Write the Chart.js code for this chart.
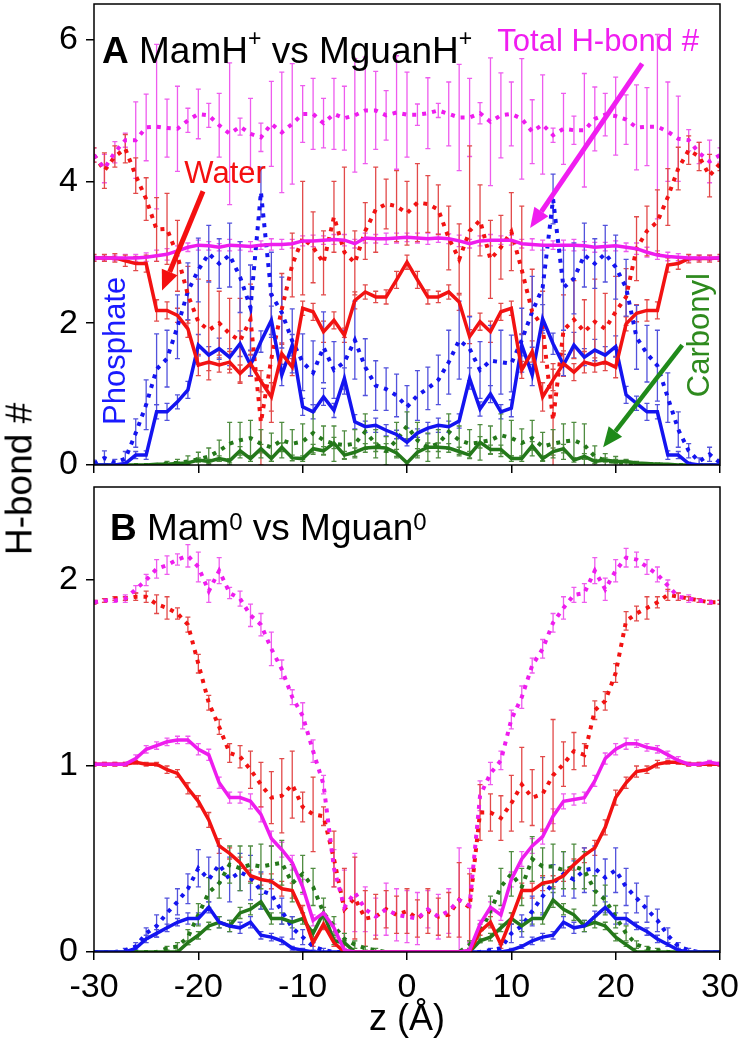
<!DOCTYPE html>
<html>
<head>
<meta charset="utf-8">
<script src="https://cdn.jsdelivr.net/npm/chart.js@4.4.1/dist/chart.umd.min.js"></script>
<style>
  body { margin: 0; background: #fff; width: 745px; height: 1050px; position: relative; overflow: hidden; }
  #chartA { position: absolute; left: 0; top: 0; }
  #chartB { position: absolute; left: 0; top: 480px; }
  #ylab { position: absolute; left: 18.5px; top: 479px; transform: translate(-50%, -50%) rotate(-90deg);
          font: 37px 'Liberation Sans', Arial, sans-serif; line-height: 1; white-space: nowrap; color: #000; }
</style>
</head>
<body>
<canvas id="chartA" width="745" height="480"></canvas>
<canvas id="chartB" width="745" height="570"></canvas>
<div id="ylab">H-bond #</div>
<script>
// z positions (Å)
const zPos = [-30,-29,-28,-27,-26,-25,-24,-23,-22,-21,
              -20,-19,-18,-17,-16,-15,-14,-13,-12,-11,
              -10,-9,-8,-7,-6,-5,-4,-3,-2,-1,
              0,1,2,3,4,5,6,7,8,9,
              10,11,12,13,14,15,16,17,18,19,
              20,21,22,23,24,25,26,27,28,29,
              30];
const xTicks = [-30, -20, -10, 0, 10, 20, 30];
const yTicksA = [0, 2, 4, 6];
const yTicksB = [0, 1, 2];

// ---- panel A: MamH+ (solid) ----
const totMamA = [2.92,2.92,2.92,2.92,2.92,2.93,2.95,2.97,3.02,3.07,
                 3.10,3.09,3.07,3.10,3.09,3.08,3.10,3.11,3.11,3.12,
                 3.16,3.16,3.17,3.18,3.17,3.12,3.20,3.19,3.19,3.20,
                 3.21,3.20,3.19,3.20,3.19,3.16,3.12,3.16,3.17,3.17,
                 3.17,3.12,3.11,3.10,3.10,3.10,3.10,3.09,3.07,3.08,
                 3.09,3.07,3.05,3.00,2.96,2.94,2.93,2.92,2.92,2.92,
                 2.92];
const watMamA = [2.92,2.92,2.92,2.88,2.84,2.84,2.18,2.18,2.11,1.92,
                 1.41,1.45,1.41,1.45,1.29,1.43,1.18,0.96,1.57,1.38,
                 2.21,2.16,1.88,2.04,1.83,2.32,2.44,2.37,2.37,2.61,
                 2.86,2.61,2.37,2.37,2.44,2.30,1.81,2.02,1.88,2.16,
                 2.21,1.34,1.60,0.96,1.20,1.43,1.31,1.45,1.41,1.45,
                 1.38,1.99,2.14,2.18,2.18,2.82,2.84,2.91,2.91,2.91,
                 2.92];
const phoMamA = [0,0,0,0.02,0.14,0.14,0.75,0.75,0.89,1.06,
                 1.69,1.55,1.64,1.52,1.71,1.41,1.74,2.04,1.27,1.69,
                 0.82,0.75,0.96,0.77,1.22,0.61,0.54,0.56,0.49,0.43,
                 0.32,0.45,0.52,0.56,0.54,0.62,1.22,0.79,1.00,0.75,
                 0.80,1.69,1.27,2.06,1.71,1.41,1.69,1.52,1.62,1.55,
                 1.67,0.99,0.87,0.75,0.75,0.14,0.14,0.02,0,0,
                 0];
const carMamA = [0,0,0,0,0,0,0.01,0.01,0.02,0.03,
                 0.07,0.05,0.09,0.06,0.20,0.09,0.23,0.09,0.25,0.10,
                 0.09,0.23,0.20,0.31,0.14,0.18,0.24,0.25,0.24,0.17,
                 0.03,0.18,0.25,0.25,0.24,0.19,0.14,0.32,0.22,0.22,
                 0.09,0.09,0.27,0.09,0.19,0.23,0.07,0.12,0.05,0.07,
                 0.05,0.05,0.03,0.02,0.01,0.01,0,0,0,0,
                 0];
const totMamAErr = [0.04,0.04,0.04,0.05,0.05,0.06,0.08,0.08,0.07,0.06,
                    0.07,0.06,0.05,0.08,0.06,0.07,0.06,0.08,0.07,0.06,
                    0.07,0.08,0.06,0.07,0.08,0.06,0.07,0.06,0.08,0.07,
                    0.06,0.07,0.08,0.06,0.07,0.08,0.06,0.07,0.08,0.06,
                    0.07,0.06,0.08,0.07,0.06,0.07,0.08,0.06,0.07,0.06,
                    0.07,0.06,0.08,0.07,0.06,0.06,0.05,0.04,0.04,0.04,
                    0.04];
const watMamAErr = [0.05,0.05,0.06,0.08,0.10,0.12,0.15,0.12,0.10,0.12,
                    0.15,0.12,0.10,0.15,0.12,0.18,0.15,0.20,0.15,0.12,
                    0.10,0.12,0.15,0.12,0.10,0.12,0.10,0.08,0.10,0.12,
                    0.10,0.12,0.10,0.08,0.10,0.12,0.10,0.12,0.15,0.12,
                    0.10,0.12,0.15,0.20,0.15,0.18,0.12,0.15,0.10,0.12,
                    0.15,0.10,0.12,0.15,0.12,0.10,0.08,0.06,0.05,0.05,
                    0.05];
const phoMamAErr = [0,0,0,0.02,0.05,0.06,0.10,0.12,0.10,0.12,
                    0.15,0.12,0.15,0.12,0.18,0.15,0.15,0.20,0.15,0.15,
                    0.12,0.10,0.12,0.10,0.15,0.10,0.08,0.10,0.08,0.06,
                    0.05,0.06,0.08,0.10,0.08,0.10,0.15,0.10,0.12,0.10,
                    0.12,0.15,0.15,0.20,0.15,0.15,0.18,0.12,0.15,0.12,
                    0.15,0.12,0.10,0.12,0.10,0.06,0.05,0.02,0,0,
                    0];
const carMamAErr = [0,0,0,0,0,0,0.01,0.01,0.02,0.02,
                    0.03,0.03,0.04,0.03,0.06,0.04,0.06,0.04,0.06,0.04,
                    0.04,0.06,0.06,0.08,0.05,0.06,0.06,0.06,0.06,0.05,
                    0.02,0.05,0.06,0.06,0.06,0.06,0.05,0.08,0.06,0.06,
                    0.04,0.04,0.06,0.04,0.05,0.06,0.03,0.04,0.03,0.03,
                    0.03,0.02,0.02,0.01,0.01,0.01,0,0,0,0,
                    0];

// ---- panel A: MguanH+ (dotted) ----
const totGuaA = [4.37,4.18,4.41,4.58,4.58,4.76,4.77,4.75,4.74,4.86,
                 4.95,4.93,4.79,4.67,4.77,4.67,4.62,4.81,4.69,4.81,
                 4.95,4.95,4.82,4.95,4.89,4.93,5.00,5.00,4.93,4.97,
                 4.94,4.94,4.96,5.00,4.95,4.90,4.90,4.96,4.84,4.93,
                 4.95,4.88,4.70,4.80,4.65,4.74,4.72,4.72,4.88,4.94,
                 4.92,4.87,4.76,4.77,4.77,4.70,4.60,4.58,4.40,4.28,
                 4.37];
const watGuaA = [4.37,4.15,4.35,4.46,4.08,3.75,3.32,3.33,2.95,2.40,
                 2.02,1.90,2.00,1.85,1.75,2.05,0.60,1.50,2.20,2.82,
                 3.20,3.07,2.85,3.50,3.00,2.85,3.30,3.60,3.68,3.65,
                 3.55,3.70,3.68,3.60,3.20,2.90,3.30,3.45,2.90,3.07,
                 3.29,2.75,2.16,1.95,0.63,1.90,2.05,1.88,2.02,1.92,
                 2.16,2.37,3.05,3.30,3.43,3.78,4.18,4.44,4.35,4.08,
                 4.25];
const phoGuaA = [0.02,0.10,0.03,0.09,0.45,0.85,1.35,1.50,1.95,2.45,
                 2.75,2.98,2.84,2.96,2.65,2.22,3.85,2.40,2.15,1.75,
                 1.45,1.30,1.66,1.34,1.45,1.76,1.38,1.12,1.07,0.98,
                 0.82,0.98,1.08,1.20,1.45,1.76,1.64,1.34,1.47,1.45,
                 1.43,1.76,2.16,2.50,3.75,2.50,2.63,2.96,2.84,2.98,
                 2.79,2.50,1.80,1.57,1.40,0.95,0.50,0.20,0.05,0.15,
                 0.03];
const carGuaA = [0,0,0,0,0,0,0,0.02,0.03,0.05,
                 0.08,0.12,0.20,0.30,0.35,0.38,0.30,0.25,0.35,0.30,
                 0.33,0.45,0.35,0.30,0.28,0.30,0.47,0.30,0.20,0.35,
                 0.55,0.35,0.25,0.30,0.47,0.35,0.30,0.32,0.35,0.42,
                 0.38,0.31,0.38,0.26,0.30,0.33,0.35,0.28,0.12,0.06,
                 0.04,0.03,0.01,0.01,0.01,0,0,0,0,0,
                 0];
const totGuaAErr = [0.10,0.20,0.15,0.10,0.54,0.47,1.16,0.41,0.60,0.17,
                    0.35,0.17,0.45,1.00,0.12,0.50,0.20,0.60,0.85,0.85,
                    0.40,0.50,0.35,0.50,0.45,0.80,0.75,0.55,0.35,0.80,
                    0.60,0.15,0.50,0.10,0.45,0.75,0.55,0.15,0.90,0.60,
                    0.45,0.85,0.45,0.70,0.10,0.50,0.20,0.80,0.45,0.30,
                    0.55,0.35,0.60,0.55,1.30,0.70,0.60,0.15,0.15,0.30,
                    0.10];
const watGuaAErr = [0.10,0.25,0.15,0.20,0.25,0.30,0.45,0.50,0.50,0.40,
                    0.60,0.70,0.45,0.50,0.60,0.50,0.60,0.90,0.50,0.45,
                    0.80,0.50,0.45,0.50,1.20,0.45,0.40,0.60,0.35,0.50,
                    0.45,0.55,0.40,0.35,0.45,0.50,1.20,0.50,0.55,0.45,
                    0.55,0.90,0.60,0.50,0.80,0.50,0.55,0.45,0.60,0.50,
                    0.50,0.40,0.45,0.35,0.45,0.40,0.30,0.20,0.20,0.30,
                    0.10];
const phoGuaAErr = [0.05,0.10,0.05,0.10,0.20,0.35,0.50,0.40,0.45,0.40,
                    0.45,0.40,0.35,0.45,0.50,0.60,0.35,0.60,0.50,0.45,
                    0.40,0.45,0.50,0.40,0.45,0.55,0.40,0.35,0.30,0.30,
                    0.30,0.35,0.30,0.35,0.45,0.55,0.45,0.40,0.50,0.45,
                    0.40,0.45,0.50,0.60,0.35,0.60,0.50,0.45,0.35,0.40,
                    0.45,0.40,0.45,0.40,0.50,0.35,0.25,0.10,0.05,0.10,
                    0.05];
const carGuaAErr = [0,0,0,0,0,0,0,0.03,0.05,0.08,
                    0.10,0.12,0.15,0.30,0.25,0.25,0.20,0.20,0.25,0.20,
                    0.25,0.30,0.20,0.25,0.20,0.20,0.25,0.20,0.20,0.25,
                    0.20,0.25,0.20,0.20,0.25,0.20,0.20,0.25,0.20,0.30,
                    0.25,0.20,0.25,0.20,0.20,0.25,0.25,0.30,0.15,0.10,
                    0.08,0.05,0.03,0.02,0.02,0.01,0,0,0,0,
                    0];

// ---- panel B: Mam0 (solid) ----
const totMamB = [1.01,1.01,1.01,1.01,1.04,1.09,1.11,1.13,1.14,1.14,
                 1.09,1.06,0.91,0.83,0.83,0.81,0.74,0.61,0.55,0.48,
                 0.35,0.17,0.21,0.13,0.01,0,0,0,0,0,
                 0,0,0,0,0,0,0.01,0.15,0.24,0.20,
                 0.39,0.50,0.57,0.62,0.73,0.81,0.82,0.83,0.92,1.04,
                 1.09,1.12,1.12,1.10,1.09,1.06,1.03,1.01,1.01,1.02,
                 1.01];
const watMamB = [1.01,1.01,1.01,1.01,1.02,1.01,1.01,0.98,0.96,0.88,
                 0.81,0.71,0.57,0.53,0.48,0.41,0.39,0.38,0.34,0.33,
                 0.21,0.05,0.15,0.05,0,0,0,0,0,0,
                 0,0,0,0,0,0,0,0.11,0.16,0.04,
                 0.18,0.33,0.33,0.37,0.38,0.41,0.47,0.52,0.56,0.67,
                 0.83,0.91,0.97,0.98,1.01,1.02,1.02,1.01,1.01,1.01,
                 1.01];
const phoMamB = [0,0,0,0,0.02,0.07,0.10,0.13,0.16,0.18,
                 0.18,0.24,0.16,0.14,0.13,0.16,0.09,0.08,0.06,0.02,
                 0.01,0,0,0,0,0,0,0,0,0,
                 0,0,0,0,0,0,0,0,0,0,
                 0.01,0.03,0.06,0.08,0.09,0.16,0.13,0.14,0.19,0.24,
                 0.18,0.18,0.14,0.11,0.07,0.04,0.01,0,0,0,
                 0];
const carMamB = [0,0,0,0,0,0,0,0,0,0.05,
                 0.09,0.14,0.16,0.14,0.21,0.23,0.27,0.18,0.18,0.16,
                 0.18,0.10,0.21,0.06,0.05,0,0,0,0,0,
                 0,0,0,0,0,0,0,0.06,0.08,0.13,
                 0.18,0.14,0.18,0.18,0.28,0.23,0.20,0.14,0.16,0.14,
                 0.08,0.04,0,0,0,0,0,0,0,0,
                 0];
const totMamBErr = [0.01,0.01,0.01,0.01,0.02,0.02,0.02,0.02,0.02,0.02,
                    0.03,0.03,0.03,0.03,0.03,0.04,0.04,0.04,0.04,0.04,
                    0.04,0.03,0.03,0.02,0.01,0,0,0,0,0,
                    0,0,0,0,0,0,0.01,0.02,0.03,0.03,
                    0.04,0.04,0.04,0.04,0.04,0.04,0.03,0.03,0.03,0.03,
                    0.03,0.03,0.02,0.02,0.02,0.02,0.02,0.01,0.01,0.01,
                    0.01];
const watMamBErr = [0.01,0.01,0.01,0.01,0.01,0.01,0.01,0.02,0.02,0.03,
                    0.03,0.04,0.04,0.03,0.03,0.03,0.03,0.04,0.04,0.04,
                    0.04,0.02,0.03,0.02,0,0,0,0,0,0,
                    0,0,0,0,0,0,0,0.02,0.03,0.02,
                    0.03,0.04,0.04,0.04,0.03,0.03,0.03,0.04,0.04,0.04,
                    0.04,0.03,0.03,0.02,0.02,0.01,0.01,0.01,0.01,0.01,
                    0.01];
const phoMamBErr = [0,0,0,0,0.01,0.02,0.02,0.02,0.02,0.03,
                    0.03,0.03,0.03,0.03,0.03,0.03,0.02,0.02,0.02,0.01,
                    0.01,0,0,0,0,0,0,0,0,0,
                    0,0,0,0,0,0,0,0,0,0,
                    0.01,0.01,0.02,0.02,0.02,0.03,0.03,0.03,0.03,0.03,
                    0.03,0.03,0.02,0.02,0.02,0.01,0.01,0,0,0,
                    0];
const carMamBErr = [0,0,0,0,0,0,0,0,0,0.01,
                    0.02,0.02,0.03,0.03,0.03,0.03,0.04,0.03,0.03,0.03,
                    0.03,0.02,0.03,0.02,0.01,0,0,0,0,0,
                    0,0,0,0,0,0,0,0.01,0.02,0.02,
                    0.03,0.03,0.03,0.03,0.04,0.03,0.03,0.03,0.03,0.02,
                    0.02,0.01,0,0,0,0,0,0,0,0,
                    0];

// ---- panel B: Mguan0 (dotted) ----
const totGuaB = [1.88,1.89,1.89,1.90,1.95,2.00,2.06,2.08,2.11,2.13,
                 2.07,1.94,2.05,1.93,1.90,1.81,1.76,1.63,1.52,1.37,
                 1.27,1.08,0.90,0.45,0.24,0.32,0.23,0.19,0.23,0.20,
                 0.19,0.18,0.23,0.19,0.22,0.28,0.25,0.84,0.96,1.03,
                 1.25,1.37,1.54,1.63,1.77,1.85,1.92,1.93,2.05,1.95,
                 2.05,2.12,2.11,2.07,2.03,1.97,1.91,1.90,1.89,1.88,
                 1.88];
const watGuaB = [1.88,1.89,1.90,1.90,1.91,1.91,1.87,1.85,1.82,1.76,
                 1.55,1.34,1.21,1.07,1.05,0.98,0.90,0.83,0.84,0.90,
                 0.78,0.74,0.73,0.50,0.23,0.29,0.18,0.19,0.23,0.20,
                 0.22,0.18,0.22,0.19,0.20,0.28,0.24,0.75,0.75,0.72,
                 0.80,0.90,0.83,0.85,0.95,1.01,1.08,1.06,1.30,1.35,
                 1.50,1.78,1.82,1.85,1.88,1.92,1.91,1.90,1.89,1.88,
                 1.88];
const phoGuaB = [0,0,0,0.01,0.03,0.10,0.14,0.21,0.27,0.34,
                 0.45,0.39,0.47,0.39,0.43,0.40,0.33,0.31,0.22,0.13,
                 0.08,0.03,0.01,0,0,0,0,0,0,0,
                 0,0,0,0,0,0,0,0,0.01,0.02,
                 0.10,0.14,0.22,0.30,0.37,0.42,0.39,0.44,0.45,0.40,
                 0.44,0.35,0.29,0.23,0.17,0.09,0.03,0.01,0,0,
                 0];
const carGuaB = [0,0,0,0,0,0,0,0.02,0.03,0.08,
                 0.20,0.32,0.37,0.47,0.45,0.47,0.46,0.47,0.48,0.37,
                 0.42,0.35,0.21,0.14,0.07,0.04,0.02,0.01,0,0,
                 0,0,0,0,0,0,0.04,0.10,0.22,0.35,
                 0.42,0.35,0.50,0.46,0.46,0.44,0.46,0.44,0.33,0.28,
                 0.19,0.10,0.04,0.02,0.01,0,0,0,0,0,
                 0];
const totGuaBErr = [0.01,0.01,0.01,0.02,0.02,0.03,0.05,0.05,0.03,0.06,
                    0.08,0.06,0.07,0.03,0.04,0.06,0.06,0.09,0.05,0.04,
                    0.07,0.06,0.05,0.10,0.20,0.21,0.12,0.10,0.14,0.14,
                    0.14,0.14,0.10,0.12,0.12,0.28,0.20,0.08,0.06,0.05,
                    0.05,0.06,0.04,0.05,0.05,0.06,0.04,0.05,0.07,0.06,
                    0.06,0.05,0.04,0.04,0.04,0.03,0.02,0.02,0.01,0.01,
                    0.01];
const watGuaBErr = [0.01,0.01,0.01,0.01,0.02,0.03,0.05,0.06,0.03,0.04,
                    0.05,0.04,0.04,0.05,0.06,0.10,0.12,0.14,0.20,0.18,
                    0.08,0.20,0.05,0.15,0.22,0.22,0.15,0.12,0.10,0.10,
                    0.12,0.10,0.12,0.10,0.12,0.20,0.18,0.15,0.10,0.12,
                    0.15,0.20,0.15,0.20,0.30,0.12,0.10,0.06,0.05,0.05,
                    0.05,0.05,0.04,0.06,0.03,0.03,0.02,0.01,0.01,0.01,
                    0.01];
const phoGuaBErr = [0,0,0,0.01,0.02,0.03,0.06,0.08,0.07,0.08,
                    0.10,0.12,0.10,0.12,0.10,0.12,0.10,0.08,0.07,0.06,
                    0.04,0.02,0.01,0,0,0,0,0,0,0,
                    0,0,0,0,0,0,0,0,0.01,0.02,
                    0.05,0.06,0.08,0.10,0.10,0.12,0.10,0.12,0.12,0.10,
                    0.12,0.10,0.08,0.07,0.06,0.04,0.02,0.01,0,0,
                    0];
const carGuaBErr = [0,0,0,0,0,0,0,0.01,0.02,0.04,
                    0.06,0.08,0.08,0.10,0.12,0.10,0.12,0.10,0.12,0.10,
                    0.10,0.10,0.08,0.05,0.03,0.02,0.01,0.01,0,0,
                    0,0,0,0,0,0,0.02,0.05,0.08,0.10,
                    0.12,0.10,0.12,0.10,0.12,0.10,0.12,0.10,0.08,0.08,
                    0.06,0.04,0.02,0.01,0.01,0,0,0,0,0,
                    0];

const FONT = "'Liberation Sans', Arial, sans-serif";
const MAG = '#ee1cee', RED = '#f21212', BLUE = '#1414f0', GREEN = '#24781a';
const MAG_E = '#ee5cee', RED_E = '#e24a4a', BLUE_E = '#5252dc', GREEN_E = '#4f8c40';

function series(vals, errs, color, errColor, dotted) {
    return {
        data: zPos.map((z, i) => ({ x: z, y: vals[i] })),
        errors: errs,
        errColor: errColor,
        borderColor: color,
        borderWidth: dotted ? 4 : 3.5,
        borderDash: dotted ? [4, 6] : [],
        pointRadius: 0,
        tension: 0,
        fill: false,
    };
}

// error bars go under the lines
const errorBars = {
    id: 'errorBars',
    beforeDatasetsDraw(chart) {
        const { ctx, chartArea: a, scales: { x, y } } = chart;
        ctx.save();
        ctx.beginPath();
        ctx.rect(a.left, a.top, a.right - a.left, a.bottom - a.top);
        ctx.clip();
        ctx.lineWidth = 1.3;
        chart.data.datasets.forEach(ds => {
            if (!ds.errors) return;
            ctx.strokeStyle = ds.errColor;
            ds.data.forEach((p, i) => {
                const e = ds.errors[i];
                if (!e) return;
                const px = x.getPixelForValue(p.x);
                const top = y.getPixelForValue(p.y + e);
                const bot = y.getPixelForValue(p.y - e);
                ctx.beginPath();
                ctx.moveTo(px, top); ctx.lineTo(px, bot);
                ctx.moveTo(px - 2.5, top); ctx.lineTo(px + 2.5, top);
                ctx.moveTo(px - 2.5, bot); ctx.lineTo(px + 2.5, bot);
                ctx.stroke();
            });
        });
        ctx.restore();
    }
};

const frame = {
    id: 'frame',
    afterDraw(chart) {
        const { ctx, chartArea: a } = chart;
        ctx.save();
        ctx.strokeStyle = '#000';
        ctx.lineWidth = 1.5;
        ctx.strokeRect(a.left, a.top, a.right - a.left, a.bottom - a.top);
        ctx.restore();
    }
};

function drawArrow(ctx, x1, y1, x2, y2, color, w) {
    const ang = Math.atan2(y2 - y1, x2 - x1);
    const hl = 20, hw = 8.5;
    const bx = x2 - hl * Math.cos(ang), by = y2 - hl * Math.sin(ang);
    ctx.strokeStyle = color;
    ctx.fillStyle = color;
    ctx.lineWidth = w;
    ctx.beginPath(); ctx.moveTo(x1, y1); ctx.lineTo(bx, by); ctx.stroke();
    ctx.beginPath();
    ctx.moveTo(x2, y2);
    ctx.lineTo(bx + hw * Math.sin(ang), by - hw * Math.cos(ang));
    ctx.lineTo(bx - hw * Math.sin(ang), by + hw * Math.cos(ang));
    ctx.closePath();
    ctx.fill();
}

// labels and arrows placed in data coordinates
function makeNotes(labels, arrows) {
    return {
        id: 'notes',
        afterDatasetsDraw(chart) {
            const { ctx, scales: { x, y } } = chart;
            ctx.save();
            arrows.forEach(a => drawArrow(ctx,
                x.getPixelForValue(a.from[0]), y.getPixelForValue(a.from[1]),
                x.getPixelForValue(a.to[0]), y.getPixelForValue(a.to[1]), a.color, a.width));
            labels.forEach(l => {
                ctx.save();
                ctx.translate(x.getPixelForValue(l.at[0]), y.getPixelForValue(l.at[1]));
                if (l.rotate) ctx.rotate(l.rotate);
                ctx.fillStyle = l.color;
                ctx.textBaseline = l.baseline || 'alphabetic';
                const runs = l.runs || [{ t: l.text }];
                const fontOf = r => (r.bold ? 'bold ' : '') + (r.size || l.size) + 'px ' + FONT;
                let total = 0;
                runs.forEach(r => { ctx.font = fontOf(r); total += ctx.measureText(r.t).width; });
                let cx = l.align === 'left' ? 0 : -total / 2;
                runs.forEach(r => {
                    ctx.font = fontOf(r);
                    ctx.fillText(r.t, cx, -(r.raise || 0));
                    cx += ctx.measureText(r.t).width;
                });
                ctx.restore();
            });
            ctx.restore();
        }
    };
}

function makeChart(id, opts) {
    const tickFont = { family: FONT, size: 34 };
    return new Chart(document.getElementById(id), {
        type: 'line',
        data: { datasets: opts.datasets },
        options: {
            responsive: false,
            animation: false,
            events: [],
            layout: { padding: { left: 0, top: opts.padTop, right: 25, bottom: 0 } },
            plugins: { legend: { display: false }, tooltip: { enabled: false } },
            scales: {
                x: {
                    type: 'linear', min: -30, max: 30,
                    afterBuildTicks: s => { s.ticks = xTicks.map(v => ({ value: v })); },
                    afterFit: s => { s.height = opts.xHeight; s.paddingLeft = 0; s.paddingRight = 0; },
                    grid: { drawOnChartArea: false, drawTicks: true, tickLength: 8, color: '#000', lineWidth: 1.5 },
                    border: { display: false },
                    ticks: { display: opts.xLabels, color: '#000', font: tickFont, padding: 7, maxRotation: 0 },
                    title: {
                        display: opts.xLabels, text: 'z (Å)', color: '#000',
                        font: { family: FONT, size: 36 }, padding: { top: 0, bottom: 8 }
                    },
                },
                y: {
                    min: 0, max: opts.yMax,
                    afterBuildTicks: s => { s.ticks = opts.yTicks.map(v => ({ value: v })); },
                    afterFit: s => { s.width = 94; s.paddingTop = 0; s.paddingBottom = 0; },
                    grid: { drawOnChartArea: false, drawTicks: true, tickLength: 8, color: '#000', lineWidth: 1.5 },
                    border: { display: false },
                    ticks: { color: '#000', font: tickFont, padding: 8 },
                },
            },
        },
        plugins: [errorBars, frame, makeNotes(opts.labels, opts.arrows)],
    });
}

makeChart('chartA', {
    padTop: 4, xHeight: 15, xLabels: false, yMax: 6.5, yTicks: yTicksA,
    datasets: [
        series(totMamA, totMamAErr, MAG, MAG_E, false),
        series(watMamA, watMamAErr, RED, RED_E, false),
        series(phoMamA, phoMamAErr, BLUE, BLUE_E, false),
        series(carMamA, carMamAErr, GREEN, GREEN_E, false),
        series(totGuaA, totGuaAErr, MAG, MAG_E, true),
        series(watGuaA, watGuaAErr, RED, RED_E, true),
        series(phoGuaA, phoGuaAErr, BLUE, BLUE_E, true),
        series(carGuaA, carGuaAErr, GREEN, GREEN_E, true),
    ],
    labels: [
        { at: [-29.23, 5.67], align: 'left', size: 37, color: '#000',
          runs: [{ t: 'A', bold: true }, { t: ' MamH' }, { t: '+', size: 23, raise: 17 },
                 { t: ' vs MguanH' }, { t: '+', size: 23, raise: 17 }] },
        { at: [18.32, 5.835], size: 31, color: '#f01ef0', text: 'Total H-bond #' },
        { at: [-17.44, 3.976], size: 31, color: '#f41010', text: 'Water' },
        { at: [-27.89, 1.61], size: 31, color: '#1a1aff', text: 'Phosphate', rotate: -Math.PI / 2, baseline: 'middle' },
        { at: [28.1, 1.83], size: 31, color: '#2e8a1e', text: 'Carbonyl', rotate: -Math.PI / 2, baseline: 'middle' },
    ],
    arrows: [
        { from: [-19.55, 3.86], to: [-23.48, 2.46], color: '#f41010', width: 5 },
        { from: [22.54, 5.66], to: [11.8, 3.34], color: '#f01ef0', width: 5 },
        { from: [26.38, 1.69], to: [18.8, 0.25], color: '#1f8a1a', width: 4.5 },
    ],
});

makeChart('chartB', {
    padTop: 7, xHeight: 98, xLabels: true, yMax: 2.5, yTicks: yTicksB,
    datasets: [
        series(totMamB, totMamBErr, MAG, MAG_E, false),
        series(watMamB, watMamBErr, RED, RED_E, false),
        series(phoMamB, phoMamBErr, BLUE, BLUE_E, false),
        series(carMamB, carMamBErr, GREEN, GREEN_E, false),
        series(totGuaB, totGuaBErr, MAG, MAG_E, true),
        series(watGuaB, watGuaBErr, RED, RED_E, true),
        series(phoGuaB, phoGuaBErr, BLUE, BLUE_E, true),
        series(carGuaB, carGuaBErr, GREEN, GREEN_E, true),
    ],
    labels: [
        { at: [-28.47, 2.215], align: 'left', size: 37, color: '#000',
          runs: [{ t: 'B', bold: true }, { t: ' Mam' }, { t: '0', size: 24, raise: 10 },
                 { t: ' vs Mguan' }, { t: '0', size: 24, raise: 10 }] },
    ],
    arrows: [],
});
</script>
</body>
</html>
